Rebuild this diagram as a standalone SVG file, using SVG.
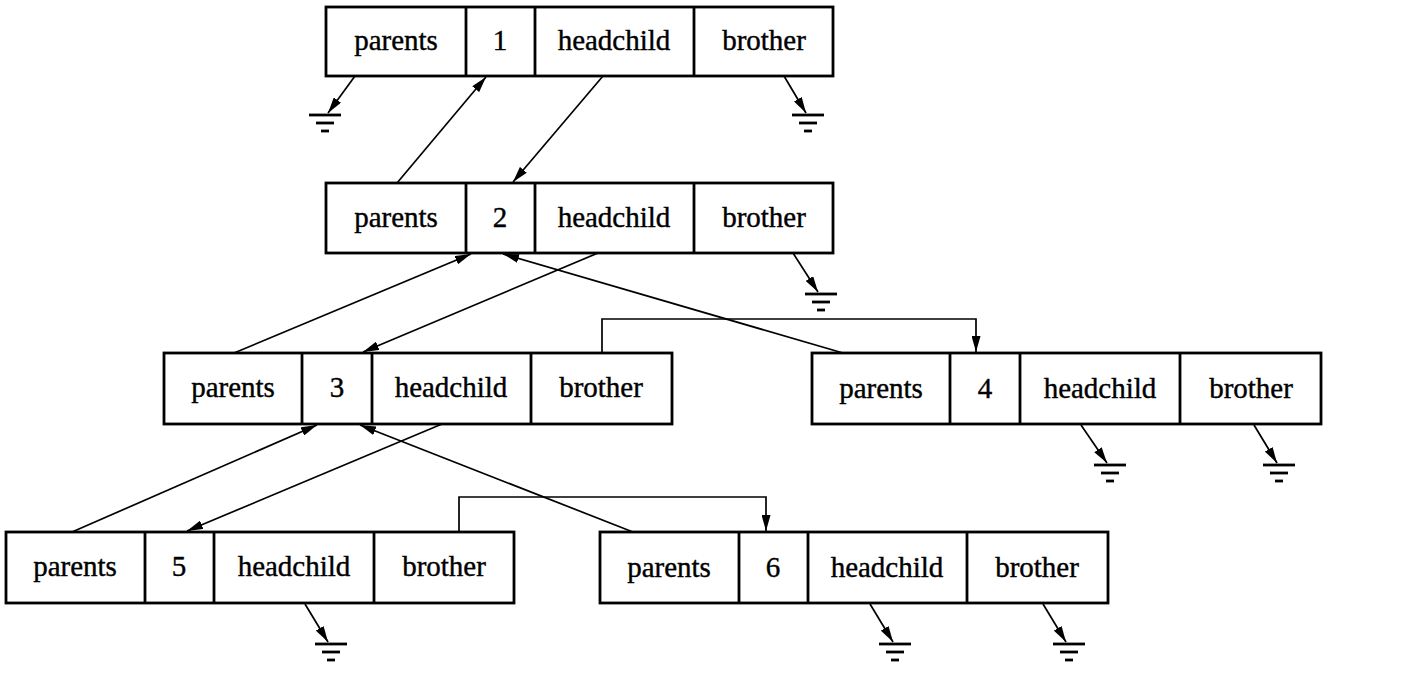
<svg xmlns="http://www.w3.org/2000/svg" xmlns:xlink="http://www.w3.org/1999/xlink" width="1413" height="676" viewBox="0 0 1413 676">
<style>
.box{fill:#fff;stroke:#000;stroke-width:2.8}
.div{stroke:#000;stroke-width:2.8}
.t{font-family:"Liberation Serif","Times New Roman",serif;font-size:29px;fill:#000;stroke:#000;stroke-width:0.4;text-anchor:middle}
.c{fill:none;stroke:#000;stroke-width:1.7}
.a{marker-end:url(#arr)}
.g{stroke:#000;stroke-width:2.8}
</style>
<defs>
<marker id="arr" viewBox="0 0 16 9" refX="16" refY="4.5" markerWidth="16" markerHeight="9" orient="auto" markerUnits="userSpaceOnUse">
<path d="M0,0 L16,4.5 L0,9 z" fill="#000"/>
</marker>
<g id="gnd">
<line class="g" x1="-16" y1="0" x2="16" y2="0"/>
<line class="g" x1="-9" y1="8" x2="9" y2="8"/>
<line class="g" x1="-4" y1="16" x2="4" y2="16"/>
</g>
</defs>
<rect width="1413" height="676" fill="#fff"/>

<g id="connectors">
<line class="c a" x1="397" y1="183" x2="486" y2="77"/>
<line class="c a" x1="603" y1="76" x2="513" y2="182"/>
<line class="c a" x1="234" y1="353" x2="471" y2="254"/>
<line class="c a" x1="598" y1="253" x2="363" y2="352"/>
<line class="c a" x1="843" y1="353" x2="503" y2="254"/>
<polyline class="c a" points="602,353 602,319 976,319 976,352"/>
<line class="c a" x1="72" y1="532" x2="317" y2="425"/>
<line class="c a" x1="442" y1="424" x2="187" y2="531"/>
<line class="c a" x1="633" y1="532" x2="360" y2="425"/>
<polyline class="c a" points="459,532 459,497 766,497 766,531"/>

<line class="c a" x1="355" y1="76" x2="328" y2="113"/>
<use xlink:href="#gnd" x="325" y="115"/>
<line class="c a" x1="784" y1="76" x2="806" y2="113"/>
<use xlink:href="#gnd" x="808" y="115"/>
<line class="c a" x1="793" y1="253" x2="818" y2="292"/>
<use xlink:href="#gnd" x="821" y="294"/>
<line class="c a" x1="1081" y1="425" x2="1107" y2="463"/>
<use xlink:href="#gnd" x="1110" y="465"/>
<line class="c a" x1="1254" y1="425" x2="1277" y2="463"/>
<use xlink:href="#gnd" x="1279" y="465"/>
<line class="c a" x1="305" y1="604" x2="328" y2="642"/>
<use xlink:href="#gnd" x="331" y="644"/>
<line class="c a" x1="870" y1="604" x2="893" y2="642"/>
<use xlink:href="#gnd" x="895" y="644"/>
<line class="c a" x1="1043" y1="604" x2="1066" y2="642"/>
<use xlink:href="#gnd" x="1069" y="644"/>
</g>

<g id="node1">
<rect class="box" x="326" y="7" width="507" height="69"/>
<line class="div" x1="466" y1="7" x2="466" y2="76"/>
<line class="div" x1="535" y1="7" x2="535" y2="76"/>
<line class="div" x1="694" y1="7" x2="694" y2="76"/>
<text class="t" x="396" y="50">parents</text>
<text class="t" x="500" y="50">1</text>
<text class="t" x="614" y="50">headchild</text>
<text class="t" x="764" y="50">brother</text>
</g>

<g id="node2">
<rect class="box" x="326" y="183" width="507" height="70"/>
<line class="div" x1="466" y1="183" x2="466" y2="253"/>
<line class="div" x1="535" y1="183" x2="535" y2="253"/>
<line class="div" x1="694" y1="183" x2="694" y2="253"/>
<text class="t" x="396" y="227">parents</text>
<text class="t" x="500" y="227">2</text>
<text class="t" x="614" y="227">headchild</text>
<text class="t" x="764" y="227">brother</text>
</g>

<g id="node3">
<rect class="box" x="164" y="353" width="508" height="71"/>
<line class="div" x1="302" y1="353" x2="302" y2="424"/>
<line class="div" x1="372" y1="353" x2="372" y2="424"/>
<line class="div" x1="531" y1="353" x2="531" y2="424"/>
<text class="t" x="233" y="397">parents</text>
<text class="t" x="337" y="397">3</text>
<text class="t" x="451" y="397">headchild</text>
<text class="t" x="601" y="397">brother</text>
</g>

<g id="node4">
<rect class="box" x="812" y="353" width="509" height="71"/>
<line class="div" x1="950" y1="353" x2="950" y2="424"/>
<line class="div" x1="1020" y1="353" x2="1020" y2="424"/>
<line class="div" x1="1180" y1="353" x2="1180" y2="424"/>
<text class="t" x="881" y="398">parents</text>
<text class="t" x="985" y="398">4</text>
<text class="t" x="1100" y="398">headchild</text>
<text class="t" x="1251" y="398">brother</text>
</g>

<g id="node5">
<rect class="box" x="6" y="532" width="508" height="71"/>
<line class="div" x1="145" y1="532" x2="145" y2="603"/>
<line class="div" x1="214" y1="532" x2="214" y2="603"/>
<line class="div" x1="374" y1="532" x2="374" y2="603"/>
<text class="t" x="75" y="576">parents</text>
<text class="t" x="179" y="576">5</text>
<text class="t" x="294" y="576">headchild</text>
<text class="t" x="444" y="576">brother</text>
</g>

<g id="node6">
<rect class="box" x="600" y="532" width="508" height="71"/>
<line class="div" x1="739" y1="532" x2="739" y2="603"/>
<line class="div" x1="808" y1="532" x2="808" y2="603"/>
<line class="div" x1="967" y1="532" x2="967" y2="603"/>
<text class="t" x="669" y="577">parents</text>
<text class="t" x="773" y="577">6</text>
<text class="t" x="887" y="577">headchild</text>
<text class="t" x="1037" y="577">brother</text>
</g>
</svg>
